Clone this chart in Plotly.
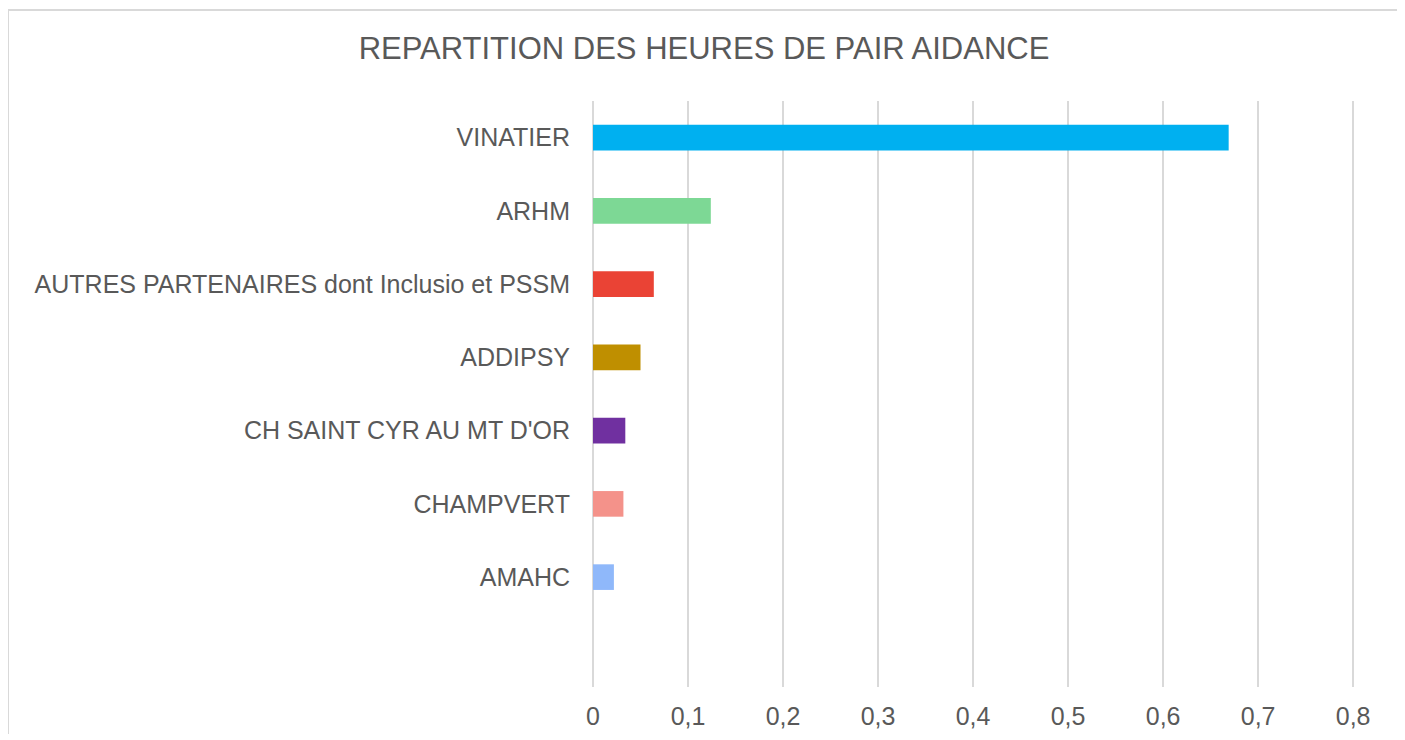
import plotly.graph_objects as go

categories = ["VINATIER", "ARHM", "AUTRES PARTENAIRES dont Inclusio et PSSM",
              "ADDIPSY", "CH SAINT CYR AU MT D'OR", "CHAMPVERT", "AMAHC"]
values = [0.669, 0.124, 0.064, 0.050, 0.034, 0.032, 0.022]
colors = ["#00B0F0", "#7DD895", "#EA4335", "#BF8F00", "#7030A0", "#F4928A", "#8FB8FA"]
tick_vals = [0, 0.1, 0.2, 0.3, 0.4, 0.5, 0.6, 0.7, 0.8]
tick_text = ["0", "0,1", "0,2", "0,3", "0,4", "0,5", "0,6", "0,7", "0,8"]
title = "REPARTITION DES HEURES DE PAIR AIDANCE"

W, H = 1392, 726
L, R, T, B = 585, 44, 93, 47

fig = go.Figure(go.Bar(
    x=values, y=categories, orientation="h",
    marker=dict(color=colors, line=dict(width=0)),
    width=0.35, hoverinfo="x+y",
))

fig.update_layout(
    width=W, height=H,
    margin=dict(l=L, r=R, t=T, b=B, autoexpand=False),
    paper_bgcolor="white", plot_bgcolor="white",
    font=dict(family="Liberation Sans, Arial, sans-serif", color="#595959"),
    title=dict(text=title, x=0.5, xref="container", xanchor="center",
               y=1 - 40 / H, yanchor="middle",
               font=dict(size=31, color="#595959")),
    showlegend=False,
    xaxis=dict(range=[0, 0.803], tickvals=tick_vals, ticktext=tick_text,
               showgrid=True, gridcolor="#D9D9D9", gridwidth=1.5,
               zeroline=True, zerolinecolor="#D9D9D9", zerolinewidth=1.5,
               showline=False, ticks="", tickfont=dict(size=25, color="#595959"),
               ticklabelstandoff=12, automargin=False, fixedrange=True),
    yaxis=dict(categoryorder="array", categoryarray=categories,
               range=[7.5, -0.5], showgrid=False, zeroline=False, showline=False,
               ticks="", tickfont=dict(size=25, color="#595959"),
               ticklabelstandoff=22, automargin=False, fixedrange=True),
)

pw, ph = W - L - R, H - T - B
fig.add_shape(type="rect", xref="paper", yref="paper",
              x0=(0 - L) / pw, x1=(W - 2 - L) / pw,
              y0=(H - B - (H + 20)) / ph, y1=(H - B - 2) / ph,
              line=dict(color="#D9D9D9", width=2), fillcolor="rgba(0,0,0,0)", layer="below")

fig.write_html("out.html")
